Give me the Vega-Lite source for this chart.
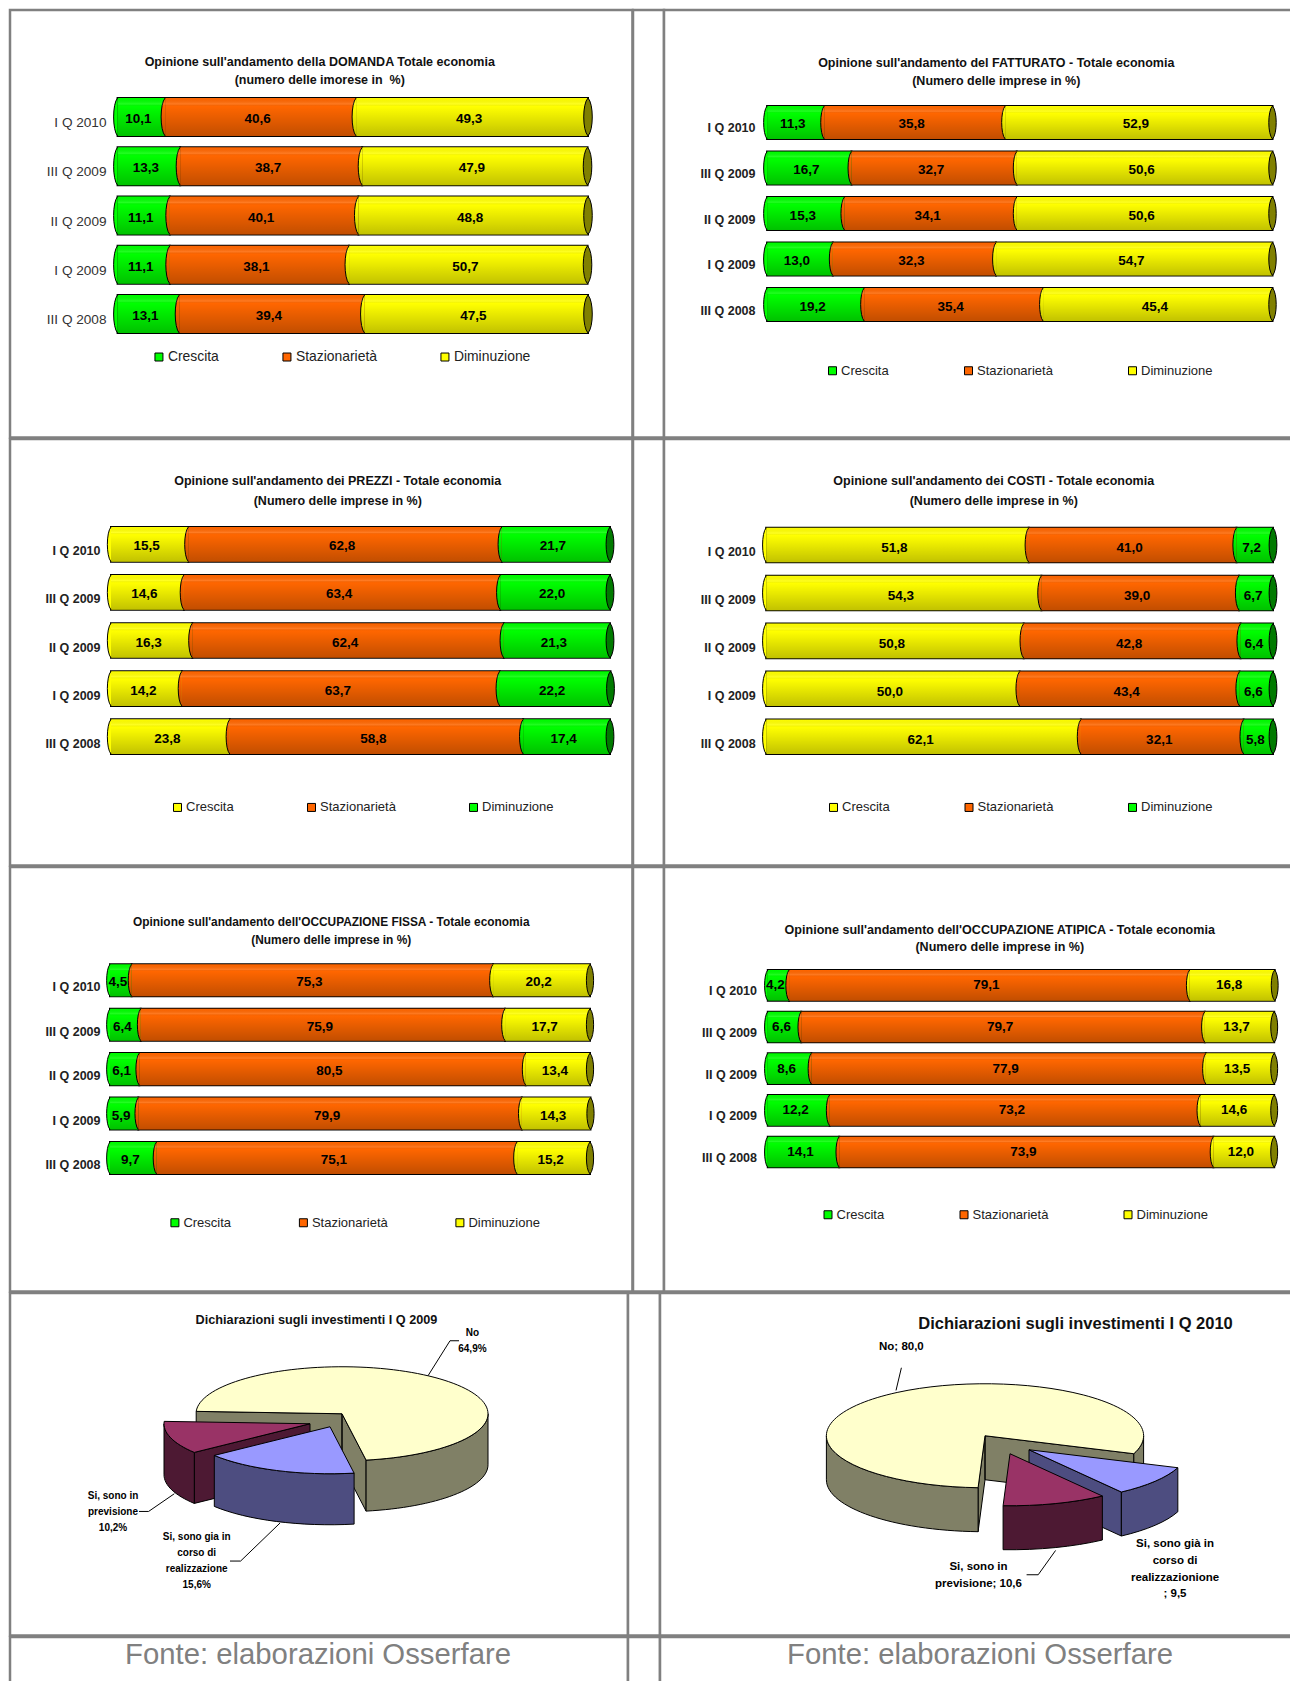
{
"$schema":"https://vega.github.io/schema/vega-lite/v6.json",
"background":"#ffffff",
"padding":{"left":8,"top":8,"right":0,"bottom":0},
"spacing":-2.5,
"resolve":{"scale":{"color":"independent"},"legend":{"color":"independent"}},
"config":{
 "view":{"stroke":"#808080","strokeWidth":2.5,"fill":"#ffffff"},
 "font":"Liberation Sans",
 "title":{"font":"Liberation Sans","fontSize":12.5,"fontWeight":"bold","anchor":"middle","frame":"group","color":"#111111"},
 "legend":{"title":null,"orient":"none","direction":"horizontal","columns":3,"padding":0,"symbolType":"square","symbolSize":64,"symbolStrokeColor":"#000000","symbolStrokeWidth":1,"labelFont":"Liberation Sans","labelFontSize":13,"labelColor":"#222222","labelOffset":2},
 "axisY":{"domain":false,"ticks":false,"tickSize":0,"grid":false,"labelPadding":0,"labelFont":"Liberation Sans","labelFontSize":12.5,"labelFontWeight":"bold","labelColor":"#222222","title":null}
},
"datasets":{
 "domanda":[
  {"q":"I Q 2010","s":"Crescita","v":10.1},{"q":"I Q 2010","s":"Stazionarietà","v":40.6},{"q":"I Q 2010","s":"Diminuzione","v":49.3},
  {"q":"III Q 2009","s":"Crescita","v":13.3},{"q":"III Q 2009","s":"Stazionarietà","v":38.7},{"q":"III Q 2009","s":"Diminuzione","v":47.9},
  {"q":"II Q 2009","s":"Crescita","v":11.1},{"q":"II Q 2009","s":"Stazionarietà","v":40.1},{"q":"II Q 2009","s":"Diminuzione","v":48.8},
  {"q":"I Q 2009","s":"Crescita","v":11.1},{"q":"I Q 2009","s":"Stazionarietà","v":38.1},{"q":"I Q 2009","s":"Diminuzione","v":50.7},
  {"q":"III Q 2008","s":"Crescita","v":13.1},{"q":"III Q 2008","s":"Stazionarietà","v":39.4},{"q":"III Q 2008","s":"Diminuzione","v":47.5}],
 "fatturato":[
  {"q":"I Q 2010","s":"Crescita","v":11.3},{"q":"I Q 2010","s":"Stazionarietà","v":35.8},{"q":"I Q 2010","s":"Diminuzione","v":52.9},
  {"q":"III Q 2009","s":"Crescita","v":16.7},{"q":"III Q 2009","s":"Stazionarietà","v":32.7},{"q":"III Q 2009","s":"Diminuzione","v":50.6},
  {"q":"II Q 2009","s":"Crescita","v":15.3},{"q":"II Q 2009","s":"Stazionarietà","v":34.1},{"q":"II Q 2009","s":"Diminuzione","v":50.6},
  {"q":"I Q 2009","s":"Crescita","v":13.0},{"q":"I Q 2009","s":"Stazionarietà","v":32.3},{"q":"I Q 2009","s":"Diminuzione","v":54.7},
  {"q":"III Q 2008","s":"Crescita","v":19.2},{"q":"III Q 2008","s":"Stazionarietà","v":35.4},{"q":"III Q 2008","s":"Diminuzione","v":45.4}],
 "prezzi":[
  {"q":"I Q 2010","s":"Crescita","v":15.5},{"q":"I Q 2010","s":"Stazionarietà","v":62.8},{"q":"I Q 2010","s":"Diminuzione","v":21.7},
  {"q":"III Q 2009","s":"Crescita","v":14.6},{"q":"III Q 2009","s":"Stazionarietà","v":63.4},{"q":"III Q 2009","s":"Diminuzione","v":22.0},
  {"q":"II Q 2009","s":"Crescita","v":16.3},{"q":"II Q 2009","s":"Stazionarietà","v":62.4},{"q":"II Q 2009","s":"Diminuzione","v":21.3},
  {"q":"I Q 2009","s":"Crescita","v":14.2},{"q":"I Q 2009","s":"Stazionarietà","v":63.7},{"q":"I Q 2009","s":"Diminuzione","v":22.2},
  {"q":"III Q 2008","s":"Crescita","v":23.8},{"q":"III Q 2008","s":"Stazionarietà","v":58.8},{"q":"III Q 2008","s":"Diminuzione","v":17.4}],
 "costi":[
  {"q":"I Q 2010","s":"Crescita","v":51.8},{"q":"I Q 2010","s":"Stazionarietà","v":41.0},{"q":"I Q 2010","s":"Diminuzione","v":7.2},
  {"q":"III Q 2009","s":"Crescita","v":54.3},{"q":"III Q 2009","s":"Stazionarietà","v":39.0},{"q":"III Q 2009","s":"Diminuzione","v":6.7},
  {"q":"II Q 2009","s":"Crescita","v":50.8},{"q":"II Q 2009","s":"Stazionarietà","v":42.8},{"q":"II Q 2009","s":"Diminuzione","v":6.4},
  {"q":"I Q 2009","s":"Crescita","v":50.0},{"q":"I Q 2009","s":"Stazionarietà","v":43.4},{"q":"I Q 2009","s":"Diminuzione","v":6.6},
  {"q":"III Q 2008","s":"Crescita","v":62.1},{"q":"III Q 2008","s":"Stazionarietà","v":32.1},{"q":"III Q 2008","s":"Diminuzione","v":5.8}],
 "fissa":[
  {"q":"I Q 2010","s":"Crescita","v":4.5},{"q":"I Q 2010","s":"Stazionarietà","v":75.3},{"q":"I Q 2010","s":"Diminuzione","v":20.2},
  {"q":"III Q 2009","s":"Crescita","v":6.4},{"q":"III Q 2009","s":"Stazionarietà","v":75.9},{"q":"III Q 2009","s":"Diminuzione","v":17.7},
  {"q":"II Q 2009","s":"Crescita","v":6.1},{"q":"II Q 2009","s":"Stazionarietà","v":80.5},{"q":"II Q 2009","s":"Diminuzione","v":13.4},
  {"q":"I Q 2009","s":"Crescita","v":5.9},{"q":"I Q 2009","s":"Stazionarietà","v":79.9},{"q":"I Q 2009","s":"Diminuzione","v":14.3},
  {"q":"III Q 2008","s":"Crescita","v":9.7},{"q":"III Q 2008","s":"Stazionarietà","v":75.1},{"q":"III Q 2008","s":"Diminuzione","v":15.2}],
 "atipica":[
  {"q":"I Q 2010","s":"Crescita","v":4.2},{"q":"I Q 2010","s":"Stazionarietà","v":79.1},{"q":"I Q 2010","s":"Diminuzione","v":16.8},
  {"q":"III Q 2009","s":"Crescita","v":6.6},{"q":"III Q 2009","s":"Stazionarietà","v":79.7},{"q":"III Q 2009","s":"Diminuzione","v":13.7},
  {"q":"II Q 2009","s":"Crescita","v":8.6},{"q":"II Q 2009","s":"Stazionarietà","v":77.9},{"q":"II Q 2009","s":"Diminuzione","v":13.5},
  {"q":"I Q 2009","s":"Crescita","v":12.2},{"q":"I Q 2009","s":"Stazionarietà","v":73.2},{"q":"I Q 2009","s":"Diminuzione","v":14.6},
  {"q":"III Q 2008","s":"Crescita","v":14.1},{"q":"III Q 2008","s":"Stazionarietà","v":73.9},{"q":"III Q 2008","s":"Diminuzione","v":12.0}],
 "inv2009":[
  {"voce":"No","v":64.9,"etichetta":"No\n64,9%"},
  {"voce":"Previsione","v":10.2,"etichetta":"Si, sono in\nprevisione\n10,2%"},
  {"voce":"Corso","v":15.6,"etichetta":"Si, sono gia  in\ncorso di\nrealizzazione\n15,6%"}],
 "inv2010":[
  {"voce":"No","v":80.0,"etichetta":"No; 80,0"},
  {"voce":"Corso","v":9.5,"etichetta":"Si, sono già  in\ncorso di\nrealizzazionione\n; 9,5"},
  {"voce":"Previsione","v":10.6,"etichetta":"Si, sono in\nprevisione; 10,6"}]
},
"vconcat":[
{"bounds":"flush","spacing":0,"resolve":{"scale":{"color":"independent"},"legend":{"color":"independent"}},"hconcat":[
 {"width":622.5,"height":427.4,"data":{"name":"domanda"},
  "title":{"text":["Opinione sull'andamento della DOMANDA Totale economia","(numero delle imorese in\u00a0 %)"],"offset":-76,"dx":-1.5,"lineHeight":17.5},
  "transform":[{"stack":"v","groupby":["q"],"as":["x0","x1"]},{"calculate":"(datum.x0+datum.x1)/2","as":"mid"},{"calculate":"replace(format(datum.v,'.1f'),'.',',')","as":"lab"}],
  "encoding":{
   "y":{"field":"q","type":"nominal","sort":["I Q 2010","III Q 2009","II Q 2009","I Q 2009","III Q 2008"],"scale":{"range":[88,323],"paddingInner":0.23,"paddingOuter":0},"axis":{"offset":-96,"labelOffset":6,"labelFontSize":13.6,"labelFontWeight":"normal","labelColor":"#333333"}},
   "x":{"field":"x0","type":"quantitative","stack":null,"scale":{"domain":[0,100],"range":[107.6,578]},"axis":null}},
  "layer":[
   {"mark":{"type":"bar","fill":"#000000","stroke":"#000000","strokeWidth":2},"encoding":{"x2":{"field":"x1"}}},
   {"mark":{"type":"bar"},"encoding":{"x2":{"field":"x1"},"color":{"field":"s","type":"nominal","scale":{"domain":["Crescita","Stazionarietà","Diminuzione"],"range":["#00ff00","#ff6600","#ffff00"]},"legend":{"legendX":142,"legendY":340,"columnPadding":61,"labelFontSize":13.9}}}},
   {"mark":{"type":"point","filled":true,"opacity":1,"size":1444,"stroke":"#000000","strokeWidth":1,"shape":"M0,-1C-0.28,-0.7,-0.28,0.7,0,1"},"encoding":{"color":{"field":"s","type":"nominal","legend":null}}},
   {"mark":{"type":"bar","fill":{"gradient":"linear","x1":0,"y1":0,"x2":0,"y2":1,"stops":[{"offset":0,"color":"rgba(0,0,0,0)"},{"offset":0.16,"color":"rgba(255,255,255,0.14)"},{"offset":0.22,"color":"rgba(0,0,0,0)"},{"offset":1,"color":"rgba(0,0,0,0.24)"}]}},"encoding":{"x2":{"field":"x1"}}},
   {"transform":[{"filter":"datum.s=='Diminuzione'"}],"mark":{"type":"point","filled":true,"opacity":1,"size":1444,"fill":"#808000","stroke":"#000000","strokeWidth":1,"shape":"M0,-1C0.3,-0.7,0.3,0.7,0,1C-0.3,0.7,-0.3,-0.7,0,-1Z"},"encoding":{"x":{"field":"x1","type":"quantitative","axis":null}}},
   {"mark":{"type":"text","fontWeight":"bold","fontSize":13.5,"dx":-3,"dy":2,"color":"#000000"},"encoding":{"x":{"field":"mid","type":"quantitative","axis":null},"text":{"field":"lab"}}}
  ]},
 {"width":31,"height":427.4,"data":{"values":[{}]},"layer":[{"mark":{"type":"text","text":""},"encoding":{"x":{"datum":50,"type":"quantitative","scale":{"domain":[0,100]},"axis":null},"y":{"datum":50,"type":"quantitative","scale":{"domain":[0,100]},"axis":null}}}]},
 {"width":630.5,"height":427.4,"data":{"name":"fatturato"},
  "title":{"text":["Opinione sull'andamento del FATTURATO - Totale economia","(Numero delle imprese in %)"],"offset":-77.5,"dx":17,"lineHeight":18.5},
  "transform":[{"stack":"v","groupby":["q"],"as":["x0","x1"]},{"calculate":"(datum.x0+datum.x1)/2","as":"mid"},{"calculate":"replace(format(datum.v,'.1f'),'.',',')","as":"lab"}],
  "encoding":{
   "y":{"field":"q","type":"nominal","sort":["I Q 2010","III Q 2009","II Q 2009","I Q 2009","III Q 2008"],"scale":{"range":[96,311],"paddingInner":0.275,"paddingOuter":0},"axis":{"offset":-91,"labelOffset":6}},
   "x":{"field":"x0","type":"quantitative","stack":null,"scale":{"domain":[0,100],"range":[103.1,608.5]},"axis":null}},
  "layer":[
   {"mark":{"type":"bar","fill":"#000000","stroke":"#000000","strokeWidth":2},"encoding":{"x2":{"field":"x1"}}},
   {"mark":{"type":"bar"},"encoding":{"x2":{"field":"x1"},"color":{"field":"s","type":"nominal","scale":{"domain":["Crescita","Stazionarietà","Diminuzione"],"range":["#00ff00","#ff6600","#ffff00"]},"legend":{"legendX":162,"legendY":354,"columnPadding":73}}}},
   {"mark":{"type":"point","filled":true,"opacity":1,"size":1089,"stroke":"#000000","strokeWidth":1,"shape":"M0,-1C-0.28,-0.7,-0.28,0.7,0,1"},"encoding":{"color":{"field":"s","type":"nominal","legend":null}}},
   {"mark":{"type":"bar","fill":{"gradient":"linear","x1":0,"y1":0,"x2":0,"y2":1,"stops":[{"offset":0,"color":"rgba(0,0,0,0)"},{"offset":0.16,"color":"rgba(255,255,255,0.14)"},{"offset":0.22,"color":"rgba(0,0,0,0)"},{"offset":1,"color":"rgba(0,0,0,0.24)"}]}},"encoding":{"x2":{"field":"x1"}}},
   {"transform":[{"filter":"datum.s=='Diminuzione'"}],"mark":{"type":"point","filled":true,"opacity":1,"size":1089,"fill":"#808000","stroke":"#000000","strokeWidth":1,"shape":"M0,-1C0.3,-0.7,0.3,0.7,0,1C-0.3,0.7,-0.3,-0.7,0,-1Z"},"encoding":{"x":{"field":"x1","type":"quantitative","axis":null}}},
   {"mark":{"type":"text","fontWeight":"bold","fontSize":13.5,"dx":-3,"dy":2,"color":"#000000"},"encoding":{"x":{"field":"mid","type":"quantitative","axis":null},"text":{"field":"lab"}}}
  ]}
]},
{"bounds":"flush","spacing":0,"resolve":{"scale":{"color":"independent"},"legend":{"color":"independent"}},"hconcat":[
 {"width":622.5,"height":426.5,"data":{"name":"prezzi"},
  "title":{"text":["Opinione sull'andamento dei PREZZI - Totale economia","(Numero delle imprese in %)"],"offset":-68,"dx":16.5,"lineHeight":19.5},
  "transform":[{"stack":"v","groupby":["q"],"as":["x0","x1"]},{"calculate":"(datum.x0+datum.x1)/2","as":"mid"},{"calculate":"replace(format(datum.v,'.1f'),'.',',')","as":"lab"}],
  "encoding":{
   "y":{"field":"q","type":"nominal","sort":["I Q 2010","III Q 2009","II Q 2009","I Q 2009","III Q 2008"],"scale":{"range":[88,315],"paddingInner":0.279,"paddingOuter":0},"axis":{"offset":-90,"labelOffset":7}},
   "x":{"field":"x0","type":"quantitative","stack":null,"scale":{"domain":[0,100],"range":[101,600]},"axis":null}},
  "layer":[
   {"mark":{"type":"bar","fill":"#000000","stroke":"#000000","strokeWidth":2},"encoding":{"x2":{"field":"x1"}}},
   {"mark":{"type":"bar"},"encoding":{"x2":{"field":"x1"},"color":{"field":"s","type":"nominal","scale":{"domain":["Crescita","Stazionarietà","Diminuzione"],"range":["#ffff00","#ff6600","#00ff00"]},"legend":{"legendX":161,"legendY":361.7,"columnPadding":71}}}},
   {"mark":{"type":"point","filled":true,"opacity":1,"size":1204,"stroke":"#000000","strokeWidth":1,"shape":"M0,-1C-0.28,-0.7,-0.28,0.7,0,1"},"encoding":{"color":{"field":"s","type":"nominal","legend":null}}},
   {"mark":{"type":"bar","fill":{"gradient":"linear","x1":0,"y1":0,"x2":0,"y2":1,"stops":[{"offset":0,"color":"rgba(0,0,0,0)"},{"offset":0.16,"color":"rgba(255,255,255,0.14)"},{"offset":0.22,"color":"rgba(0,0,0,0)"},{"offset":1,"color":"rgba(0,0,0,0.24)"}]}},"encoding":{"x2":{"field":"x1"}}},
   {"transform":[{"filter":"datum.s=='Diminuzione'"}],"mark":{"type":"point","filled":true,"opacity":1,"size":1204,"fill":"#007a00","stroke":"#000000","strokeWidth":1,"shape":"M0,-1C0.3,-0.7,0.3,0.7,0,1C-0.3,0.7,-0.3,-0.7,0,-1Z"},"encoding":{"x":{"field":"x1","type":"quantitative","axis":null}}},
   {"mark":{"type":"text","fontWeight":"bold","fontSize":13.5,"dx":-3,"dy":2,"color":"#000000"},"encoding":{"x":{"field":"mid","type":"quantitative","axis":null},"text":{"field":"lab"}}}
  ]},
 {"width":31,"height":426.5,"data":{"values":[{}]},"layer":[{"mark":{"type":"text","text":""},"encoding":{"x":{"datum":50,"type":"quantitative","scale":{"domain":[0,100]},"axis":null},"y":{"datum":50,"type":"quantitative","scale":{"domain":[0,100]},"axis":null}}}]},
 {"width":630.5,"height":426.5,"data":{"name":"costi"},
  "title":{"text":["Opinione sull'andamento dei COSTI - Totale economia","(Numero delle imprese in %)"],"offset":-68,"dx":14.5,"lineHeight":19.5},
  "transform":[{"stack":"v","groupby":["q"],"as":["x0","x1"]},{"calculate":"(datum.x0+datum.x1)/2","as":"mid"},{"calculate":"replace(format(datum.v,'.1f'),'.',',')","as":"lab"}],
  "encoding":{
   "y":{"field":"q","type":"nominal","sort":["I Q 2010","III Q 2009","II Q 2009","I Q 2009","III Q 2008"],"scale":{"range":[88.7,315],"paddingInner":0.279,"paddingOuter":0},"axis":{"offset":-91.2,"labelOffset":7}},
   "x":{"field":"x0","type":"quantitative","stack":null,"scale":{"domain":[0,100],"range":[102.2,609]},"axis":null}},
  "layer":[
   {"mark":{"type":"bar","fill":"#000000","stroke":"#000000","strokeWidth":2},"encoding":{"x2":{"field":"x1"}}},
   {"mark":{"type":"bar"},"encoding":{"x2":{"field":"x1"},"color":{"field":"s","type":"nominal","scale":{"domain":["Crescita","Stazionarietà","Diminuzione"],"range":["#ffff00","#ff6600","#00ff00"]},"legend":{"legendX":163,"legendY":361.7,"columnPadding":72.5}}}},
   {"mark":{"type":"point","filled":true,"opacity":1,"size":1190,"stroke":"#000000","strokeWidth":1,"shape":"M0,-1C-0.28,-0.7,-0.28,0.7,0,1"},"encoding":{"color":{"field":"s","type":"nominal","legend":null}}},
   {"mark":{"type":"bar","fill":{"gradient":"linear","x1":0,"y1":0,"x2":0,"y2":1,"stops":[{"offset":0,"color":"rgba(0,0,0,0)"},{"offset":0.16,"color":"rgba(255,255,255,0.14)"},{"offset":0.22,"color":"rgba(0,0,0,0)"},{"offset":1,"color":"rgba(0,0,0,0.24)"}]}},"encoding":{"x2":{"field":"x1"}}},
   {"transform":[{"filter":"datum.s=='Diminuzione'"}],"mark":{"type":"point","filled":true,"opacity":1,"size":1190,"fill":"#007a00","stroke":"#000000","strokeWidth":1,"shape":"M0,-1C0.3,-0.7,0.3,0.7,0,1C-0.3,0.7,-0.3,-0.7,0,-1Z"},"encoding":{"x":{"field":"x1","type":"quantitative","axis":null}}},
   {"mark":{"type":"text","fontWeight":"bold","fontSize":13.5,"dx":-3,"dy":3,"color":"#000000"},"encoding":{"x":{"field":"mid","type":"quantitative","axis":null},"text":{"field":"lab"}}}
  ]}
]},
{"bounds":"flush","spacing":0,"resolve":{"scale":{"color":"independent"},"legend":{"color":"independent"}},"hconcat":[
 {"width":622.5,"height":424.4,"data":{"name":"fissa"},
  "title":{"text":["Opinione sull'andamento dell'OCCUPAZIONE FISSA - Totale economia","(Numero delle imprese in %)"],"fontSize":11.9,"offset":-80,"dx":10,"lineHeight":18},
  "transform":[{"stack":"v","groupby":["q"],"as":["x0","x1"]},{"calculate":"(datum.x0+datum.x1)/2","as":"mid"},{"calculate":"replace(format(datum.v,'.1f'),'.',',')","as":"lab"}],
  "encoding":{
   "y":{"field":"q","type":"nominal","sort":["I Q 2010","III Q 2009","II Q 2009","I Q 2009","III Q 2008"],"scale":{"range":[97.3,307],"paddingInner":0.278,"paddingOuter":0},"axis":{"offset":-90,"labelOffset":7}},
   "x":{"field":"x0","type":"quantitative","stack":null,"scale":{"domain":[0,100],"range":[100,580]},"axis":null}},
  "layer":[
   {"mark":{"type":"bar","fill":"#000000","stroke":"#000000","strokeWidth":2},"encoding":{"x2":{"field":"x1"}}},
   {"mark":{"type":"bar"},"encoding":{"x2":{"field":"x1"},"color":{"field":"s","type":"nominal","scale":{"domain":["Crescita","Stazionarietà","Diminuzione"],"range":["#00ff00","#ff6600","#ffff00"]},"legend":{"legendX":158.4,"legendY":349,"columnPadding":65.5}}}},
   {"mark":{"type":"point","filled":true,"opacity":1,"size":1024,"stroke":"#000000","strokeWidth":1,"shape":"M0,-1C-0.28,-0.7,-0.28,0.7,0,1"},"encoding":{"color":{"field":"s","type":"nominal","legend":null}}},
   {"mark":{"type":"bar","fill":{"gradient":"linear","x1":0,"y1":0,"x2":0,"y2":1,"stops":[{"offset":0,"color":"rgba(0,0,0,0)"},{"offset":0.16,"color":"rgba(255,255,255,0.14)"},{"offset":0.22,"color":"rgba(0,0,0,0)"},{"offset":1,"color":"rgba(0,0,0,0.24)"}]}},"encoding":{"x2":{"field":"x1"}}},
   {"transform":[{"filter":"datum.s=='Diminuzione'"}],"mark":{"type":"point","filled":true,"opacity":1,"size":1024,"fill":"#808000","stroke":"#000000","strokeWidth":1,"shape":"M0,-1C0.3,-0.7,0.3,0.7,0,1C-0.3,0.7,-0.3,-0.7,0,-1Z"},"encoding":{"x":{"field":"x1","type":"quantitative","axis":null}}},
   {"mark":{"type":"text","fontWeight":"bold","fontSize":13.5,"dx":-3,"dy":2,"color":"#000000"},"encoding":{"x":{"field":"mid","type":"quantitative","axis":null},"text":{"field":"lab"}}}
  ]},
 {"width":31,"height":424.4,"data":{"values":[{}]},"layer":[{"mark":{"type":"text","text":""},"encoding":{"x":{"datum":50,"type":"quantitative","scale":{"domain":[0,100]},"axis":null},"y":{"datum":50,"type":"quantitative","scale":{"domain":[0,100]},"axis":null}}}]},
 {"width":630.5,"height":424.4,"data":{"name":"atipica"},
  "title":{"text":["Opinione sull'andamento dell'OCCUPAZIONE ATIPICA - Totale economia","(Numero delle imprese in %)"],"fontSize":12.55,"offset":-87,"dx":20.5,"lineHeight":17},
  "transform":[{"stack":"v","groupby":["q"],"as":["x0","x1"]},{"calculate":"(datum.x0+datum.x1)/2","as":"mid"},{"calculate":"replace(format(datum.v,'.1f'),'.',',')","as":"lab"}],
  "encoding":{
   "y":{"field":"q","type":"nominal","sort":["I Q 2010","III Q 2009","II Q 2009","I Q 2009","III Q 2008"],"scale":{"range":[103,300.3],"paddingInner":0.265,"paddingOuter":0},"axis":{"offset":-92.5,"labelOffset":6}},
   "x":{"field":"x0","type":"quantitative","stack":null,"scale":{"domain":[0,100],"range":[103.8,610.2]},"axis":null}},
  "layer":[
   {"mark":{"type":"bar","fill":"#000000","stroke":"#000000","strokeWidth":2},"encoding":{"x2":{"field":"x1"}}},
   {"mark":{"type":"bar"},"encoding":{"x2":{"field":"x1"},"color":{"field":"s","type":"nominal","scale":{"domain":["Crescita","Stazionarietà","Diminuzione"],"range":["#00ff00","#ff6600","#ffff00"]},"legend":{"legendX":157.5,"legendY":341,"columnPadding":73}}}},
   {"mark":{"type":"point","filled":true,"opacity":1,"size":942,"stroke":"#000000","strokeWidth":1,"shape":"M0,-1C-0.28,-0.7,-0.28,0.7,0,1"},"encoding":{"color":{"field":"s","type":"nominal","legend":null}}},
   {"mark":{"type":"bar","fill":{"gradient":"linear","x1":0,"y1":0,"x2":0,"y2":1,"stops":[{"offset":0,"color":"rgba(0,0,0,0)"},{"offset":0.16,"color":"rgba(255,255,255,0.14)"},{"offset":0.22,"color":"rgba(0,0,0,0)"},{"offset":1,"color":"rgba(0,0,0,0.24)"}]}},"encoding":{"x2":{"field":"x1"}}},
   {"transform":[{"filter":"datum.s=='Diminuzione'"}],"mark":{"type":"point","filled":true,"opacity":1,"size":942,"fill":"#808000","stroke":"#000000","strokeWidth":1,"shape":"M0,-1C0.3,-0.7,0.3,0.7,0,1C-0.3,0.7,-0.3,-0.7,0,-1Z"},"encoding":{"x":{"field":"x1","type":"quantitative","axis":null}}},
   {"mark":{"type":"text","fontWeight":"bold","fontSize":13.5,"dx":-3,"dy":0,"color":"#000000"},"encoding":{"x":{"field":"mid","type":"quantitative","axis":null},"text":{"field":"lab"}}}
  ]}
]},
{"bounds":"flush","spacing":0,"resolve":{"scale":{"color":"independent"},"legend":{"color":"independent"}},"hconcat":[
 {"width":618,"height":342.5,"data":{"name":"inv2009"},
  "title":{"text":"Dichiarazioni sugli investimenti I Q 2009","fontSize":12.7,"offset":-34,"dx":-2.5},
  "transform":[
   {"joinaggregate":[{"op":"sum","field":"v","as":"tot"}]},
   {"stack":"v","groupby":[],"as":["c0","c1"]},
   {"calculate":"440.5-360*datum.c1/datum.tot","as":"a0"},
   {"calculate":"440.5-360*datum.c0/datum.tot","as":"a1"},
   {"calculate":"datum.voce=='No'?0:datum.voce=='Previsione'?-32:-12","as":"ox"},
   {"calculate":"datum.voce=='No'?0:datum.voce=='Previsione'?10:13","as":"oy"},
   {"calculate":"round(100*(datum.ox+146*cos(datum.a0*PI/180)))/100","as":"px0"},
   {"calculate":"round(100*(datum.oy+47*sin(datum.a0*PI/180)))/100","as":"py0"},
   {"calculate":"round(100*(datum.ox+146*cos(datum.a1*PI/180)))/100","as":"px1"},
   {"calculate":"round(100*(datum.oy+47*sin(datum.a1*PI/180)))/100","as":"py1"},
   {"calculate":"datum.a1-datum.a0>180?1:0","as":"lg"},
   {"calculate":"max(datum.a0,0)","as":"s1"},
   {"calculate":"min(datum.a1,180)","as":"e1"},
   {"calculate":"max(datum.a0,360)","as":"s2"},
   {"calculate":"min(datum.a1,540)","as":"e2"},
   {"calculate":"round(100*(datum.ox+146*cos(datum.s1*PI/180)))/100","as":"xs1"},
   {"calculate":"round(100*(datum.oy+47*sin(datum.s1*PI/180)))/100","as":"ys1"},
   {"calculate":"round(100*(datum.ox+146*cos(datum.e1*PI/180)))/100","as":"xe1"},
   {"calculate":"round(100*(datum.oy+47*sin(datum.e1*PI/180)))/100","as":"ye1"},
   {"calculate":"round(100*(datum.ox+146*cos(datum.s2*PI/180)))/100","as":"xs2"},
   {"calculate":"round(100*(datum.oy+47*sin(datum.s2*PI/180)))/100","as":"ys2"},
   {"calculate":"round(100*(datum.ox+146*cos(datum.e2*PI/180)))/100","as":"xe2"},
   {"calculate":"round(100*(datum.oy+47*sin(datum.e2*PI/180)))/100","as":"ye2"},
   {"calculate":"'M'+datum.ox+','+datum.oy+'L'+datum.px0+','+datum.py0+'A146,47 0 '+datum.lg+' 1 '+datum.px1+','+datum.py1+'Z'","as":"faccia"},
   {"calculate":"'M'+datum.ox+','+datum.oy+'Z'+(datum.e1>datum.s1?'M'+datum.xs1+','+datum.ys1+'A146,47 0 0 1 '+datum.xe1+','+datum.ye1+'L'+datum.xe1+','+(datum.ye1+51)+'A146,47 0 0 0 '+datum.xs1+','+(datum.ys1+51)+'Z':'')+(datum.e2>datum.s2?'M'+datum.xs2+','+datum.ys2+'A146,47 0 0 1 '+datum.xe2+','+datum.ye2+'L'+datum.xe2+','+(datum.ye2+51)+'A146,47 0 0 0 '+datum.xs2+','+(datum.ys2+51)+'Z':'')","as":"parete"},
   {"calculate":"'M'+datum.ox+','+datum.oy+'Z'+(cos(datum.a0*PI/180)<0?'M'+datum.ox+','+datum.oy+'L'+datum.px0+','+datum.py0+'L'+datum.px0+','+(datum.py0+51)+'L'+datum.ox+','+(datum.oy+51)+'Z':'')+(cos(datum.a1*PI/180)>0?'M'+datum.ox+','+datum.oy+'L'+datum.px1+','+datum.py1+'L'+datum.px1+','+(datum.py1+51)+'L'+datum.ox+','+(datum.oy+51)+'Z':'')","as":"taglio"},
   {"calculate":"datum.voce=='No'?'#ffffcc':datum.voce=='Previsione'?'#993366':'#9999ff'","as":"chiaro"},
   {"calculate":"datum.voce=='No'?'#808066':datum.voce=='Previsione'?'#4d1933':'#4d4d80'","as":"scuro"},
   {"calculate":"datum.voce=='No'?462.4:datum.voce=='Previsione'?103:186.7","as":"lx"},
   {"calculate":"datum.voce=='No'?40:datum.voce=='Previsione'?203.3:244.3","as":"ly"}
  ],
  "layer":[
   {"mark":{"type":"point","filled":true,"opacity":1,"size":4,"xOffset":23,"yOffset":-50.5,"stroke":"#000000","strokeWidth":1},"encoding":{"shape":{"field":"taglio","type":"nominal","scale":null,"legend":null},"color":{"field":"scuro","type":"nominal","scale":null,"legend":null}}},
   {"mark":{"type":"point","filled":true,"opacity":1,"size":4,"xOffset":23,"yOffset":-50.5,"stroke":"#000000","strokeWidth":1},"encoding":{"shape":{"field":"parete","type":"nominal","scale":null,"legend":null},"color":{"field":"scuro","type":"nominal","scale":null,"legend":null}}},
   {"mark":{"type":"point","filled":true,"opacity":1,"size":4,"xOffset":23,"yOffset":-50.5,"stroke":"#000000","strokeWidth":1},"encoding":{"shape":{"field":"faccia","type":"nominal","scale":null,"legend":null},"color":{"field":"chiaro","type":"nominal","scale":null,"legend":null}}},
   {"transform":[{"filter":"datum.voce=='No'"}],"mark":{"type":"point","filled":false,"opacity":1,"size":4,"xOffset":23,"yOffset":-50.5,"stroke":"#000000","strokeWidth":1,"shape":"M117,-73L108,-73L86,-38M-203,97.7L-193.4,97.7L-167.7,80M-112,147.3L-101.4,147.3L-62,109.3"}},
   {"mark":{"type":"text","fontWeight":"bold","fontSize":10,"lineBreak":"\n","lineHeight":16,"color":"#000000"},"encoding":{"x":{"field":"lx","type":"quantitative","scale":{"domain":[0,618],"range":[0,618]},"axis":null},"y":{"field":"ly","type":"quantitative","scale":{"domain":[0,343],"range":[0,343]},"axis":null},"text":{"field":"etichetta"}}}
  ]},
 {"width":32,"height":342.5,"data":{"values":[{}]},"layer":[{"mark":{"type":"text","text":""},"encoding":{"x":{"datum":50,"type":"quantitative","scale":{"domain":[0,100]},"axis":null},"y":{"datum":50,"type":"quantitative","scale":{"domain":[0,100]},"axis":null}}}]},
 {"width":634,"height":342.5,"data":{"name":"inv2010"},
  "title":{"text":"Dichiarazioni sugli investimenti I Q 2010","fontSize":16.5,"offset":-39,"dx":98.5},
  "transform":[
   {"joinaggregate":[{"op":"sum","field":"v","as":"tot"}]},
   {"stack":"v","groupby":[],"as":["c0","c1"]},
   {"calculate":"92.5+360*datum.c0/datum.tot","as":"a0"},
   {"calculate":"92.5+360*datum.c1/datum.tot","as":"a1"},
   {"calculate":"datum.voce=='No'?0:datum.voce=='Previsione'?25:44","as":"ox"},
   {"calculate":"datum.voce=='No'?0:datum.voce=='Previsione'?18:14","as":"oy"},
   {"calculate":"round(100*(datum.ox+158.6*cos(datum.a0*PI/180)))/100","as":"px0"},
   {"calculate":"round(100*(datum.oy+52*sin(datum.a0*PI/180)))/100","as":"py0"},
   {"calculate":"round(100*(datum.ox+158.6*cos(datum.a1*PI/180)))/100","as":"px1"},
   {"calculate":"round(100*(datum.oy+52*sin(datum.a1*PI/180)))/100","as":"py1"},
   {"calculate":"datum.a1-datum.a0>180?1:0","as":"lg"},
   {"calculate":"max(datum.a0,0)","as":"s1"},
   {"calculate":"min(datum.a1,180)","as":"e1"},
   {"calculate":"max(datum.a0,360)","as":"s2"},
   {"calculate":"min(datum.a1,540)","as":"e2"},
   {"calculate":"round(100*(datum.ox+158.6*cos(datum.s1*PI/180)))/100","as":"xs1"},
   {"calculate":"round(100*(datum.oy+52*sin(datum.s1*PI/180)))/100","as":"ys1"},
   {"calculate":"round(100*(datum.ox+158.6*cos(datum.e1*PI/180)))/100","as":"xe1"},
   {"calculate":"round(100*(datum.oy+52*sin(datum.e1*PI/180)))/100","as":"ye1"},
   {"calculate":"round(100*(datum.ox+158.6*cos(datum.s2*PI/180)))/100","as":"xs2"},
   {"calculate":"round(100*(datum.oy+52*sin(datum.s2*PI/180)))/100","as":"ys2"},
   {"calculate":"round(100*(datum.ox+158.6*cos(datum.e2*PI/180)))/100","as":"xe2"},
   {"calculate":"round(100*(datum.oy+52*sin(datum.e2*PI/180)))/100","as":"ye2"},
   {"calculate":"'M'+datum.ox+','+datum.oy+'L'+datum.px0+','+datum.py0+'A158.6,52 0 '+datum.lg+' 1 '+datum.px1+','+datum.py1+'Z'","as":"faccia"},
   {"calculate":"'M'+datum.ox+','+datum.oy+'Z'+(datum.e1>datum.s1?'M'+datum.xs1+','+datum.ys1+'A158.6,52 0 0 1 '+datum.xe1+','+datum.ye1+'L'+datum.xe1+','+(datum.ye1+44)+'A158.6,52 0 0 0 '+datum.xs1+','+(datum.ys1+44)+'Z':'')+(datum.e2>datum.s2?'M'+datum.xs2+','+datum.ys2+'A158.6,52 0 0 1 '+datum.xe2+','+datum.ye2+'L'+datum.xe2+','+(datum.ye2+44)+'A158.6,52 0 0 0 '+datum.xs2+','+(datum.ys2+44)+'Z':'')","as":"parete"},
   {"calculate":"'M'+datum.ox+','+datum.oy+'Z'+(cos(datum.a0*PI/180)<0?'M'+datum.ox+','+datum.oy+'L'+datum.px0+','+datum.py0+'L'+datum.px0+','+(datum.py0+44)+'L'+datum.ox+','+(datum.oy+44)+'Z':'')+(cos(datum.a1*PI/180)>0?'M'+datum.ox+','+datum.oy+'L'+datum.px1+','+datum.py1+'L'+datum.px1+','+(datum.py1+44)+'L'+datum.ox+','+(datum.oy+44)+'Z':'')","as":"taglio"},
   {"calculate":"datum.voce=='No'?'#ffffcc':datum.voce=='Previsione'?'#993366':'#9999ff'","as":"chiaro"},
   {"calculate":"datum.voce=='No'?'#808066':datum.voce=='Previsione'?'#4d1933':'#4d4d80'","as":"scuro"},
   {"calculate":"datum.voce=='No'?241.4:datum.voce=='Previsione'?318.5:515","as":"lx"},
   {"calculate":"datum.voce=='No'?54:datum.voce=='Previsione'?274:251","as":"ly"}
  ],
  "layer":[
   {"mark":{"type":"point","filled":true,"opacity":1,"size":4,"xOffset":8,"yOffset":-28.5,"stroke":"#000000","strokeWidth":1},"encoding":{"shape":{"field":"taglio","type":"nominal","scale":null,"legend":null},"color":{"field":"scuro","type":"nominal","scale":null,"legend":null}}},
   {"mark":{"type":"point","filled":true,"opacity":1,"size":4,"xOffset":8,"yOffset":-28.5,"stroke":"#000000","strokeWidth":1},"encoding":{"shape":{"field":"parete","type":"nominal","scale":null,"legend":null},"color":{"field":"scuro","type":"nominal","scale":null,"legend":null}}},
   {"mark":{"type":"point","filled":true,"opacity":1,"size":4,"xOffset":8,"yOffset":-28.5,"stroke":"#000000","strokeWidth":1},"encoding":{"shape":{"field":"faccia","type":"nominal","scale":null,"legend":null},"color":{"field":"chiaro","type":"nominal","scale":null,"legend":null}}},
   {"transform":[{"filter":"datum.voce=='No'"}],"mark":{"type":"point","filled":false,"opacity":1,"size":4,"xOffset":8,"yOffset":-28.5,"stroke":"#000000","strokeWidth":1,"shape":"M-83.6,-68L-89,-45.3M41.6,139L53.2,139L70.6,114.7"}},
   {"mark":{"type":"text","fontWeight":"bold","fontSize":11.5,"lineBreak":"\n","lineHeight":16.8,"color":"#000000"},"encoding":{"x":{"field":"lx","type":"quantitative","scale":{"domain":[0,634],"range":[0,634]},"axis":null},"y":{"field":"ly","type":"quantitative","scale":{"domain":[0,343],"range":[0,343]},"axis":null},"text":{"field":"etichetta"}}}
  ]}
]},
{"bounds":"flush","spacing":0,"resolve":{"scale":{"color":"independent"},"legend":{"color":"independent"}},"hconcat":[
 {"width":618,"height":47,"data":{"values":[{"nota":"Fonte: elaborazioni Osserfare"}]},"layer":[{"mark":{"type":"text","font":"Liberation Sans","fontSize":29.3,"color":"#808080","dx":-1,"dy":-5.5},"encoding":{"x":{"datum":50,"type":"quantitative","scale":{"domain":[0,100]},"axis":null},"y":{"datum":50,"type":"quantitative","scale":{"domain":[0,100]},"axis":null},"text":{"field":"nota"}}}]},
 {"width":32,"height":47,"data":{"values":[{}]},"layer":[{"mark":{"type":"text","text":""},"encoding":{"x":{"datum":50,"type":"quantitative","scale":{"domain":[0,100]},"axis":null},"y":{"datum":50,"type":"quantitative","scale":{"domain":[0,100]},"axis":null}}}]},
 {"width":634,"height":47,"data":{"values":[{"nota":"Fonte: elaborazioni Osserfare"}]},"layer":[{"mark":{"type":"text","font":"Liberation Sans","fontSize":29.3,"color":"#808080","dx":3,"dy":-5.5},"encoding":{"x":{"datum":50,"type":"quantitative","scale":{"domain":[0,100]},"axis":null},"y":{"datum":50,"type":"quantitative","scale":{"domain":[0,100]},"axis":null},"text":{"field":"nota"}}}]}
]}
]
}
